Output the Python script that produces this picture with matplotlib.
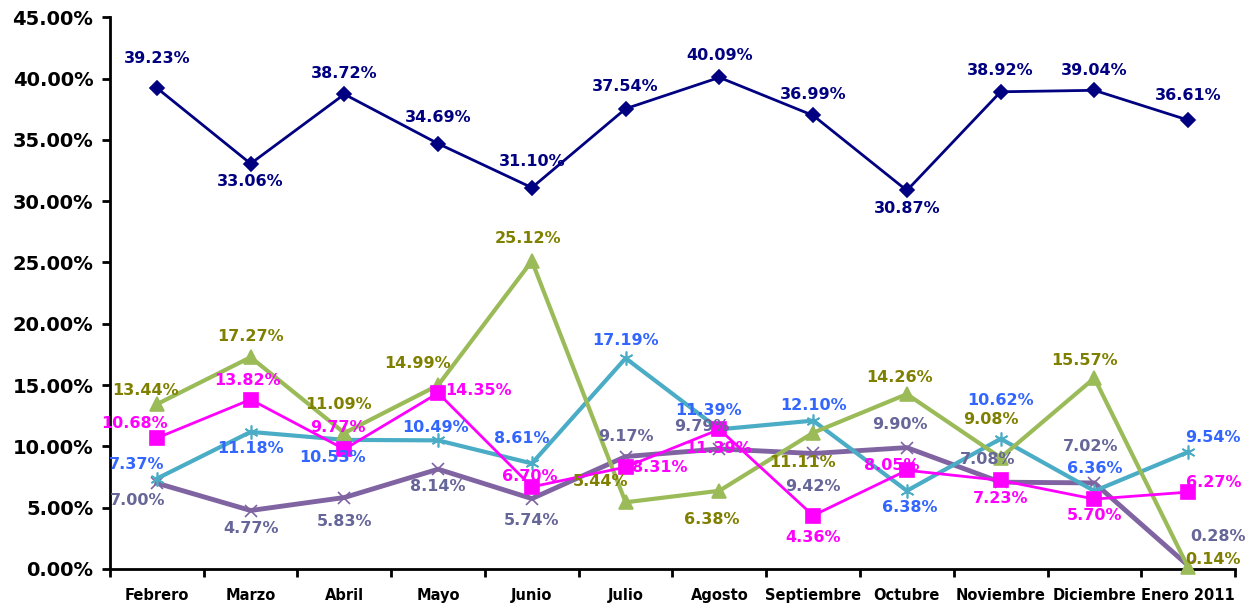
import matplotlib
matplotlib.use("Agg")
import matplotlib.pyplot as plt
import numpy as np

months = ["Febrero", "Marzo", "Abril", "Mayo", "Junio", "Julio", "Agosto",
          "Septiembre", "Octubre", "Noviembre", "Diciembre", "Enero 2011"]
navy = [39.23, 33.06, 38.72, 34.69, 31.10, 37.54, 40.09, 36.99, 30.87, 38.92, 39.04, 36.61]
green = [13.44, 17.27, 11.09, 14.99, 25.12, 5.44, 6.38, 11.11, 14.26, 9.08, 15.57, 0.14]
magenta = [10.68, 13.82, 9.77, 14.35, 6.70, 8.31, 11.39, 4.36, 8.05, 7.23, 5.70, 6.27]
cyan = [7.37, 11.18, 10.53, 10.49, 8.61, 17.19, 11.39, 12.10, 6.38, 10.62, 6.36, 9.54]
purple = [7.00, 4.77, 5.83, 8.14, 5.74, 9.17, 9.79, 9.42, 9.90, 7.08, 7.02, 0.28]

# label offsets in pixels (dx, dy)
off_navy = [(0, 29), (0, -18), (0, 21), (0, 26), (0, 26), (0, 22), (0, 22), (0, 21), (0, -18), (0, 21), (0, 20), (0, 25)]
off_green = [(-11, 14), (0, 21), (-6, 29), (-21, 22), (-4, 22), (-25, 21), (-8, -29), (-11, -30), (-7, 17), (-10, 38), (-10, 18), (25, 8)]
off_mag = [(-22, 15), (-3, 19), (-6, 22), (40, 3), (-2, 10), (34, 0), (-1, -19), (0, -22), (-15, 5), (0, -18), (0, -16), (26, 10)]
off_cyan = [(-20, 14), (0, -17), (-12, -18), (-3, 13), (-10, 25), (0, 18), (-11, 19), (0, 15), (3, -17), (0, 38), (0, 23), (25, 15)]
off_purp = [(-19, -17), (0, -18), (0, -24), (0, -17), (0, -22), (0, 20), (-17, 22), (0, -33), (-7, 23), (-13, 23), (-4, 36), (30, 29)]

fig = plt.figure(figsize=(12.57, 6.09), dpi=100)
ax = fig.add_axes([0.0875, 0.0657, 0.895, 0.906])
x = np.arange(len(months))

series = [
    (purple, "#8064A2", "#666699", 3.5, "x", 9, off_purp, 2),
    (cyan, "#4BACC6", "#3366FF", 3.0, (6, 2, 0), 10, off_cyan, 3),
    (green, "#9BBB59", "#808000", 3.0, "^", 10, off_green, 4),
    (magenta, "#FF00FF", "#FF00FF", 2.0, "s", 10, off_mag, 5),
    (navy, "#000080", "#000080", 2.0, "D", 7, off_navy, 6),
]
for vals, lc, tc, lw, mk, ms, offs, z in series:
    ax.plot(x, vals, color=lc, lw=lw, marker=mk, ms=ms, mew=1.2,
            mfc=lc, mec=lc, zorder=z, clip_on=False)
    for xi, v, (dx, dy) in zip(x, vals, offs):
        ax.annotate(f"{v:.2f}%", (xi, v), xytext=(dx, dy), textcoords="offset pixels",
                    ha="center", va="center", color=tc, fontsize=11.5,
                    fontweight="bold", zorder=10)

ax.set_xlim(-0.5, len(months) - 0.5)
ax.set_ylim(0, 45)
ax.set_yticks(np.arange(0, 46, 5))
ax.set_yticklabels([f"{v:.2f}%" for v in np.arange(0, 46, 5)], fontsize=14, fontweight="bold")
ax.set_xticks(x)
ax.set_xticklabels(months, fontsize=10.5, fontweight="bold")
ax.set_xticks(np.arange(-0.5, len(months)), minor=True)
ax.tick_params(axis="x", which="major", length=0, pad=14)
ax.tick_params(axis="x", which="minor", length=6, width=2, direction="out")
ax.tick_params(axis="y", length=6, width=2, direction="out", pad=6)
for s in ("top", "right"):
    ax.spines[s].set_visible(False)
for s in ("left", "bottom"):
    ax.spines[s].set_linewidth(2)

fig.savefig("out.png", dpi=100)
